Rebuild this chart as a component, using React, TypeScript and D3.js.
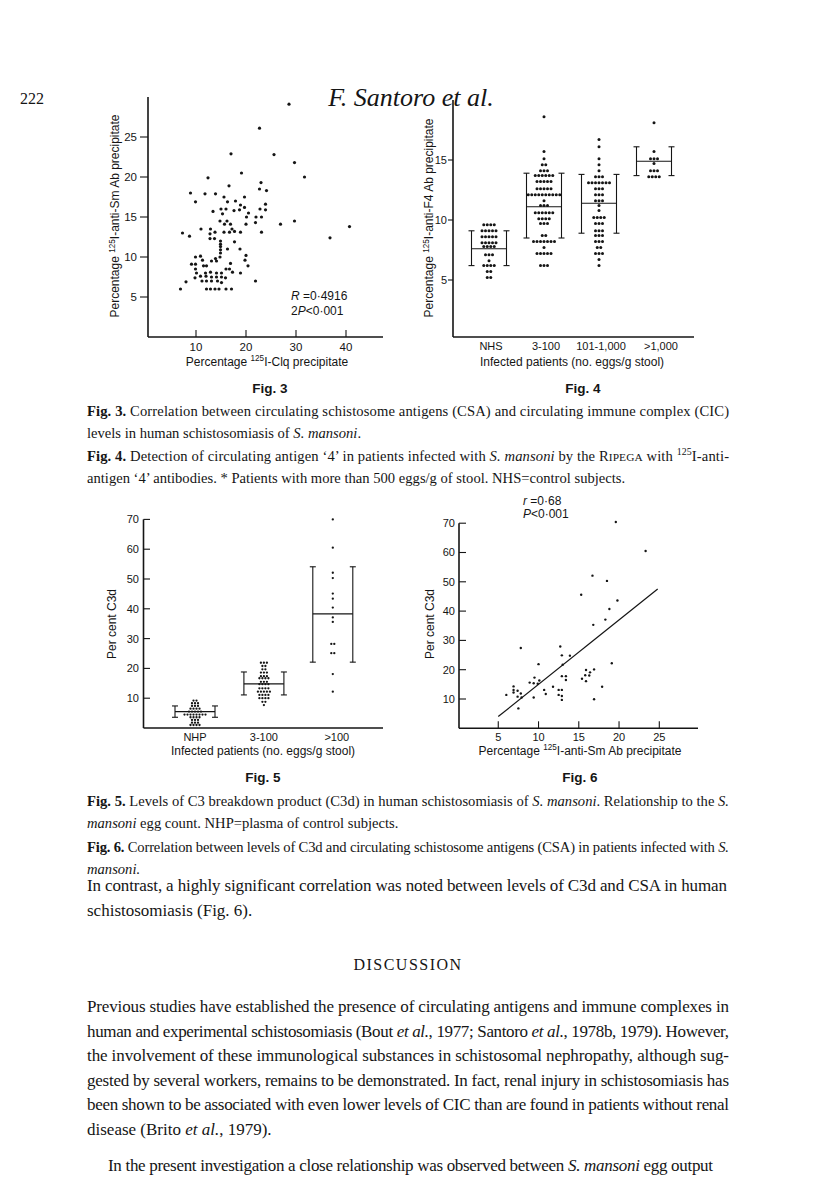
import React from "react";
import * as d3 from "d3";

// ---- Fig. 3 data: [CIC %, CSA %]
const fig3Points = [
  [6.9, 6.0], [8.0, 6.9], [7.3, 13.0], [8.7, 12.6], [8.9, 18.0], [9.9, 16.9], [12.4, 19.9],
  [11.8, 17.9], [13.9, 17.9], [16.6, 18.9], [17.0, 22.9], [19.1, 20.5], [22.7, 26.1], [25.6, 22.8],
  [28.6, 29.1], [29.7, 21.8], [31.7, 20.0], [29.7, 14.5], [26.9, 14.1], [36.8, 12.4], [40.7, 13.8],
  [21.9, 7.0], [23.0, 19.3], [22.7, 18.5], [24.1, 18.3], [15.6, 17.5], [19.7, 17.5], [16.3, 16.9],
  [17.9, 17.0], [18.9, 16.5], [23.9, 16.6], [15.0, 16.0], [16.0, 16.0], [17.6, 15.8], [18.7, 15.9],
  [19.7, 16.2], [22.8, 16.0], [23.9, 15.9], [13.4, 15.7], [15.3, 15.4], [20.5, 15.5], [20.1, 15.0],
  [22.0, 15.0], [23.1, 15.0], [14.8, 14.5], [16.2, 14.5], [20.0, 14.1], [21.9, 14.3], [15.7, 14.1],
  [16.9, 14.1], [11.0, 13.5], [12.9, 13.5], [17.2, 13.5], [12.8, 12.9], [13.8, 13.1], [15.6, 13.1],
  [16.7, 13.1], [17.7, 13.2], [18.9, 13.1], [23.1, 13.1], [12.8, 12.3], [13.7, 12.3], [14.9, 12.0],
  [14.9, 11.6], [17.7, 11.9], [14.9, 11.3], [14.9, 10.9], [16.3, 11.0], [18.8, 11.0], [14.9, 10.5],
  [9.9, 10.0], [10.9, 10.1], [14.8, 10.0], [20.0, 10.2], [13.9, 9.8], [9.1, 9.1], [9.9, 9.1],
  [11.3, 9.6], [13.1, 9.5], [14.1, 9.5], [19.8, 9.6], [11.5, 8.9], [12.1, 8.9], [16.9, 9.2],
  [20.4, 8.9], [9.9, 8.5], [16.0, 8.5], [16.7, 8.5], [10.1, 8.0], [11.9, 8.0], [12.9, 8.1],
  [14.1, 8.0], [15.1, 8.0], [17.3, 8.1], [18.9, 8.0], [10.9, 7.6], [12.0, 7.6], [13.1, 7.5],
  [14.1, 7.5], [15.1, 7.5], [9.8, 7.4], [13.1, 7.0], [14.3, 7.0], [15.9, 7.4], [11.2, 7.0],
  [12.1, 7.0], [15.1, 6.8], [12.1, 6.0], [12.9, 6.0], [13.8, 6.0], [14.6, 6.0], [16.0, 6.0],
  [17.1, 6.0],
];
const fig3XTicks = [10, 20, 30, 40];
const fig3YTicks = [5, 10, 15, 20, 25];

// ---- Fig. 4 data: rows of [value, number of dots]
const fig4Groups = ["NHS", "3-100", "101-1,000", ">1,000"];
const fig4Nhs = [[9.6, 4], [9.1, 5], [8.6, 5], [8.1, 5], [7.8, 4], [7.1, 3], [6.6, 1], [6.2, 4], [5.7, 2], [5.2, 2]];
const fig4Low = [[18.6, 1], [15.7, 1], [15.1, 1], [14.6, 2], [14.1, 3], [13.7, 6], [13.2, 5], [12.6, 5], [12.1, 10], [11.6, 1], [11.2, 3], [10.6, 6], [10.1, 4], [9.7, 3], [8.7, 2], [8.2, 7], [7.7, 1], [7.2, 5], [6.2, 3]];
const fig4Mid = [[16.7, 1], [16.1, 1], [15.1, 1], [14.6, 1], [14.1, 1], [13.6, 3], [13.1, 7], [12.6, 3], [12.1, 3], [11.6, 3], [11.2, 1], [10.8, 1], [10.2, 4], [9.7, 3], [9.1, 3], [8.7, 3], [8.2, 3], [7.7, 2], [7.2, 3], [6.7, 1], [6.2, 1]];
const fig4High = [[18.1, 1], [15.7, 1], [15.1, 3], [14.7, 1], [14.1, 3], [13.6, 4]];
const fig4Mean = [7.6, 11.1, 11.4, 14.9];
const fig4Upper = [9.1, 13.9, 13.8, 16.1];
const fig4Lower = [6.2, 8.5, 8.9, 13.7];
const fig4YTicks = [5, 10, 15];

// ---- Fig. 5 data
const fig5Groups = ["NHP", "3-100", ">100"];
const fig5Nhp = [[9.2, 2], [8.3, 3], [7.4, 3], [6.5, 4], [5.5, 5], [4.5, 8], [3.6, 4], [2.7, 3], [1.8, 3], [1.0, 4]];
const fig5Low = [[21.9, 3], [20.8, 2], [19.7, 2], [18.6, 3], [17.4, 3], [16.7, 4], [15.5, 3], [14.7, 4], [13.3, 4], [12.2, 5], [11.1, 4], [10.0, 4], [8.8, 2], [7.7, 1]];
const fig5High = [[70.0, 1], [60.5, 1], [52.1, 1], [50.3, 1], [45.1, 1], [43.4, 1], [40.4, 1], [37.1, 1], [35.6, 1], [28.2, 2], [25.1, 2], [18.1, 1], [12.2, 1]];
const fig5Mean = [5.5, 14.8, 38.3];
const fig5Upper = [7.4, 18.8, 54.1];
const fig5Lower = [3.6, 11.1, 22.1];
const fig5YTicks = [10, 20, 30, 40, 50, 60, 70];

// ---- Fig. 6 data: [anti-Sm %, C3d %]
const fig6Points = [
  [19.6, 70.4], [23.3, 60.5], [16.7, 52.1], [18.5, 50.3], [15.3, 45.6], [19.8, 43.6], [18.8, 40.7],
  [18.3, 37.1], [16.8, 35.3], [7.8, 27.4], [12.7, 27.9], [12.9, 24.9], [13.9, 24.8], [10.0, 21.9],
  [13.0, 21.7], [19.1, 22.2], [15.9, 19.9], [16.4, 19.1], [16.9, 20.1], [15.8, 18.1], [16.3, 18.0],
  [15.4, 16.9], [15.9, 16.1], [12.9, 17.8], [13.4, 17.8], [13.4, 16.5], [9.5, 17.3], [8.9, 15.6],
  [9.4, 15.4], [9.9, 15.2], [10.1, 16.3], [6.9, 14.3], [6.9, 13.1], [6.9, 12.2], [7.4, 12.8],
  [7.8, 11.9], [6.0, 11.4], [7.4, 10.8], [7.9, 10.5], [7.5, 6.8], [9.4, 10.5], [10.7, 13.1],
  [10.9, 11.7], [11.8, 14.2], [12.5, 13.1], [12.9, 13.1], [12.5, 11.4], [12.9, 11.0], [12.9, 9.7],
  [16.9, 9.9], [17.9, 14.2],
];
const fig6FitX = [5, 24.8];
const fig6Slope = 2.2;
const fig6Intercept = -7;
const fig6XTicks = [5, 10, 15, 20, 25];
const fig6YTicks = [10, 20, 30, 40, 50, 60, 70];

const sans = "'Liberation Sans', Arial, sans-serif";
const serif = "'Liberation Serif', 'Times New Roman', serif";
const ink = "#151515";

const Sup = ({ base, sup, size }) => (
  <>
    <tspan dy={-size * 0.38} fontSize={size * 0.68}>{sup}</tspan>
    <tspan dy={size * 0.38}>{base}</tspan>
  </>
);

// columns of dots, rows centred on the group position
const DotRows = ({ rows, cx, y, gap, r }) => (
  <g fill={ink}>
    {rows.flatMap(([v, n], i) =>
      d3.range(n).map(j => (
        <circle key={`${i}-${j}`} cx={cx + (j - (n - 1) / 2) * gap} cy={y(v)} r={r} />
      ))
    )}
  </g>
);

const ErrorBar = ({ cx, hw, mean, upper, lower, y }) => (
  <g stroke={ink} strokeWidth={1.1} fill="none">
    <line x1={cx - hw} x2={cx + hw} y1={y(mean)} y2={y(mean)} />
    {[cx - hw, cx + hw].map(x => (
      <g key={x}>
        <line x1={x} x2={x} y1={y(upper)} y2={y(lower)} />
        <line x1={x - 3} x2={x + 3} y1={y(upper)} y2={y(upper)} />
        <line x1={x - 3} x2={x + 3} y1={y(lower)} y2={y(lower)} />
      </g>
    ))}
  </g>
);

const Fig3 = () => {
  const x = d3.scaleLinear().domain([0, 40]).range([146, 346]);
  const y = d3.scaleLinear().domain([0, 30]).range([337, 97]);
  return (
    <g fontFamily={sans} fill={ink}>
      <line x1={148} x2={383} y1={y(0)} y2={y(0)} stroke={ink} strokeWidth={1.6} />
      <line x1={148} x2={148} y1={y(0)} y2={y(30)} stroke={ink} strokeWidth={1.6} />
      {fig3YTicks.map(t => (
        <g key={t}>
          <line x1={140} x2={148} y1={y(t)} y2={y(t)} stroke={ink} strokeWidth={1.1} />
          <text x={137} y={y(t)} dy="0.36em" textAnchor="end" fontSize={11.5}>{t}</text>
        </g>
      ))}
      {fig3XTicks.map(t => (
        <g key={t}>
          <line x1={x(t)} x2={x(t)} y1={y(0)} y2={y(0) - 7} stroke={ink} strokeWidth={1.1} />
          <text x={x(t)} y={351} textAnchor="middle" fontSize={11.5}>{t}</text>
        </g>
      ))}
      {fig3Points.map(([a, b], i) => (
        <circle key={i} cx={x(a)} cy={y(b)} r={1.6} />
      ))}
      <text x={291} y={300} fontSize={12}>
        <tspan fontStyle="italic">R</tspan> =0·4916
      </text>
      <text x={291} y={315} fontSize={12}>
        2<tspan fontStyle="italic">P</tspan>&lt;0·001
      </text>
      <text x={267} y={366} textAnchor="middle" fontSize={12}>
        Percentage <Sup size={12} sup="125" base="I-Clq precipitate" />
      </text>
      <text transform="translate(115,216) rotate(-90)" textAnchor="middle" dy="0.35em" fontSize={12}>
        Percentage <Sup size={12} sup="125" base="I-anti-Sm Ab precipitate" />
      </text>
      <text x={270} y={393} textAnchor="middle" fontSize={13.5} fontWeight="bold">Fig. 3</text>
    </g>
  );
};

const Fig4 = () => {
  const y = d3.scaleLinear().domain([0, 20]).range([340, 100]);
  const gx = d3.scalePoint().domain(fig4Groups).range([489, 654]);
  const dots = [fig4Nhs, fig4Low, fig4Mid, fig4High];
  return (
    <g fontFamily={sans} fill={ink}>
      <line x1={453} x2={694} y1={337} y2={337} stroke={ink} strokeWidth={1.6} />
      <line x1={453} x2={453} y1={337} y2={y(20)} stroke={ink} strokeWidth={1.6} />
      {fig4YTicks.map(t => (
        <g key={t}>
          <line x1={448} x2={453} y1={y(t)} y2={y(t)} stroke={ink} strokeWidth={1.1} />
          <text x={447} y={y(t)} dy="0.36em" textAnchor="end" fontSize={11}>{t}</text>
        </g>
      ))}
      {fig4Groups.map((g, i) => (
        <g key={g}>
          <DotRows rows={dots[i]} cx={gx(g)} y={y} gap={3.5} r={1.5} />
          <ErrorBar cx={gx(g)} hw={17.5} mean={fig4Mean[i]} upper={fig4Upper[i]} lower={fig4Lower[i]} y={y} />
          <text x={gx(g) + (i === 3 ? 7 : 2)} y={350} textAnchor="middle" fontSize={11}>{g}</text>
        </g>
      ))}
      <text x={572} y={366} textAnchor="middle" fontSize={12}>Infected patients (no. eggs/g stool)</text>
      <text transform="translate(429,218) rotate(-90)" textAnchor="middle" dy="0.35em" fontSize={12}>
        Percentage <Sup size={12} sup="125" base="I-anti-F4 Ab precipitate" />
      </text>
      <text x={583} y={393} textAnchor="middle" fontSize={13.5} fontWeight="bold">Fig. 4</text>
    </g>
  );
};

const Fig5 = () => {
  const y = d3.scaleLinear().domain([0, 70]).range([728, 519.4]);
  const gx = d3.scalePoint().domain(fig5Groups).range([195, 332.8]);
  const dots = [fig5Nhp, fig5Low, fig5High];
  return (
    <g fontFamily={sans} fill={ink}>
      <line x1={143.5} x2={383} y1={y(0)} y2={y(0)} stroke={ink} strokeWidth={1.6} />
      <line x1={143.5} x2={143.5} y1={y(0)} y2={y(70)} stroke={ink} strokeWidth={1.6} />
      {fig5YTicks.map(t => (
        <g key={t}>
          <line x1={143.5} x2={150} y1={y(t)} y2={y(t)} stroke={ink} strokeWidth={1.1} />
          <text x={139} y={y(t)} dy="0.36em" textAnchor="end" fontSize={11}>{t}</text>
        </g>
      ))}
      {fig5Groups.map((g, i) => (
        <g key={g}>
          <DotRows rows={dots[i]} cx={gx(g)} y={y} gap={3} r={1.15} />
          <ErrorBar cx={gx(g)} hw={20} mean={fig5Mean[i]} upper={fig5Upper[i]} lower={fig5Lower[i]} y={y} />
          <text x={gx(g) + (i === 2 ? 4 : 0)} y={741} textAnchor="middle" fontSize={11}>{g}</text>
        </g>
      ))}
      <text x={263} y={755} textAnchor="middle" fontSize={12}>Infected patients (no. eggs/g stool)</text>
      <text transform="translate(112,624) rotate(-90)" textAnchor="middle" dy="0.35em" fontSize={12}>Per cent C3d</text>
      <text x={263} y={782} textAnchor="middle" fontSize={13.5} fontWeight="bold">Fig. 5</text>
    </g>
  );
};

const Fig6 = () => {
  const x = d3.scaleLinear().domain([0, 25]).range([458, 659.3]);
  const y = d3.scaleLinear().domain([0, 70]).range([728.3, 523.2]);
  const fit = d3.line().x(d => x(d)).y(d => y(fig6Slope * d + fig6Intercept));
  return (
    <g fontFamily={sans} fill={ink}>
      <line x1={459} x2={698} y1={y(0)} y2={y(0)} stroke={ink} strokeWidth={1.6} />
      <line x1={459} x2={459} y1={y(0)} y2={y(70)} stroke={ink} strokeWidth={1.6} />
      {fig6YTicks.map(t => (
        <g key={t}>
          <line x1={459} x2={466} y1={y(t)} y2={y(t)} stroke={ink} strokeWidth={1.1} />
          <text x={455} y={y(t)} dy="0.36em" textAnchor="end" fontSize={11}>{t}</text>
        </g>
      ))}
      {fig6XTicks.map(t => (
        <g key={t}>
          <line x1={x(t)} x2={x(t)} y1={y(0)} y2={y(0) - 7} stroke={ink} strokeWidth={1.1} />
          <text x={x(t)} y={741} textAnchor="middle" fontSize={11}>{t}</text>
        </g>
      ))}
      <path d={fit(fig6FitX)} stroke={ink} strokeWidth={1.2} fill="none" />
      {fig6Points.map(([a, b], i) => (
        <circle key={i} cx={x(a)} cy={y(b)} r={1.2} />
      ))}
      <text x={523} y={505} fontSize={12}>
        <tspan fontStyle="italic">r</tspan> =0·68
      </text>
      <text x={523} y={518} fontSize={12}>
        <tspan fontStyle="italic">P</tspan>&lt;0·001
      </text>
      <text x={580} y={755} textAnchor="middle" fontSize={12}>
        Percentage <Sup size={12} sup="125" base="I-anti-Sm Ab precipitate" />
      </text>
      <text transform="translate(430,624) rotate(-90)" textAnchor="middle" dy="0.35em" fontSize={12}>Per cent C3d</text>
      <text x={580} y={782} textAnchor="middle" fontSize={13.5} fontWeight="bold">Fig. 6</text>
    </g>
  );
};

// text segments: [text, style] style: b bold, i italic, sc small caps, sup superscript
const Line = ({ x, y, size, segs, width }) => {
  const out = [];
  let raise = 0;
  segs.forEach(([t, s], i) => {
    if (s === "sup") {
      out.push(<tspan key={i} dy={-size * 0.38} fontSize={size * 0.68}>{t}</tspan>);
      raise = size * 0.38;
      return;
    }
    out.push(
      <tspan
        key={i}
        dy={raise || undefined}
        fontWeight={s === "b" ? "bold" : undefined}
        fontStyle={s === "i" ? "italic" : undefined}
        fontSize={s === "sc" ? size * 0.78 : undefined}
      >
        {t}
      </tspan>
    );
    raise = 0;
  });
  return (
    <text x={x} y={y} fontSize={size} fontFamily={serif} fill={ink}
      textLength={width} lengthAdjust={width ? "spacing" : undefined}>
      {out}
    </text>
  );
};

const captionLines = [
  { y: 416, w: 642, segs: [["Fig. 3.", "b"], [" Correlation between circulating schistosome antigens (CSA) and circulating immune complex (CIC)"]] },
  { y: 438, segs: [["levels in human schistosomiasis of "], ["S. mansoni", "i"], ["."]] },
  { y: 461, w: 642, segs: [["Fig. 4.", "b"], [" Detection of circulating antigen ‘4’ in patients infected with "], ["S. mansoni", "i"], [" by the R"], ["IPEGA", "sc"], [" with "], ["125", "sup"], ["I-anti-"]] },
  { y: 483, segs: [["antigen ‘4’ antibodies. * Patients with more than 500 eggs/g of stool. NHS=control subjects."]] },
  { y: 806, w: 642, segs: [["Fig. 5.", "b"], [" Levels of C3 breakdown product (C3d) in human schistosomiasis of "], ["S. mansoni", "i"], [". Relationship to the "], ["S.", "i"]] },
  { y: 828, segs: [["mansoni", "i"], [" egg count. NHP=plasma of control subjects."]] },
  { y: 852, w: 642, segs: [["Fig. 6.", "b"], [" Correlation between levels of C3d and circulating schistosome antigens (CSA) in patients infected with "], ["S.", "i"]] },
  { y: 874, segs: [["mansoni.", "i"]] },
];

const bodyLines = [
  { y: 891, w: 640, segs: [["In contrast, a highly significant correlation was noted between levels of C3d and CSA in human"]] },
  { y: 916, segs: [["schistosomiasis (Fig. 6)."]] },
  { y: 1012, w: 642, segs: [["Previous studies have established the presence of circulating antigens and immune complexes in"]] },
  { y: 1037, w: 642, segs: [["human and experimental schistosomiasis (Bout "], ["et al.", "i"], [", 1977; Santoro "], ["et al.", "i"], [", 1978b, 1979). However,"]] },
  { y: 1061, w: 642, segs: [["the involvement of these immunological substances in schistosomal nephropathy, although sug-"]] },
  { y: 1086, w: 642, segs: [["gested by several workers, remains to be demonstrated. In fact, renal injury in schistosomiasis has"]] },
  { y: 1110, w: 642, segs: [["been shown to be associated with even lower levels of CIC than are found in patients without renal"]] },
  { y: 1135, segs: [["disease (Brito "], ["et al.", "i"], [", 1979)."]] },
  { y: 1171, x: 108, w: 605, segs: [["In the present investigation a close relationship was observed between "], ["S. mansoni", "i"], [" egg output"]] },
];

const App = () => (
  <svg width={816} height={1202} style={{ position: "absolute", left: 0, top: 0, background: "#fff" }}>
    <rect width={816} height={1202} fill="#fff" />
    <text x={20} y={104} fontFamily={serif} fontSize={16} fill={ink}>222</text>
    <text x={411} y={106} textAnchor="middle" fontFamily={serif} fontSize={26} fontStyle="italic" fill={ink}>
      F. Santoro et al.
    </text>
    <Fig3 />
    <Fig4 />
    <Fig5 />
    <Fig6 />
    {captionLines.map((l, i) => (
      <Line key={i} x={87} y={l.y} size={14.6} segs={l.segs} width={l.w} />
    ))}
    {bodyLines.map((l, i) => (
      <Line key={i} x={l.x || 87} y={l.y} size={17} segs={l.segs} width={l.w} />
    ))}
    <text x={408} y={970} textAnchor="middle" fontFamily={serif} fontSize={16} letterSpacing={1.5} fill={ink}>
      DISCUSSION
    </text>
  </svg>
);

export default App;
